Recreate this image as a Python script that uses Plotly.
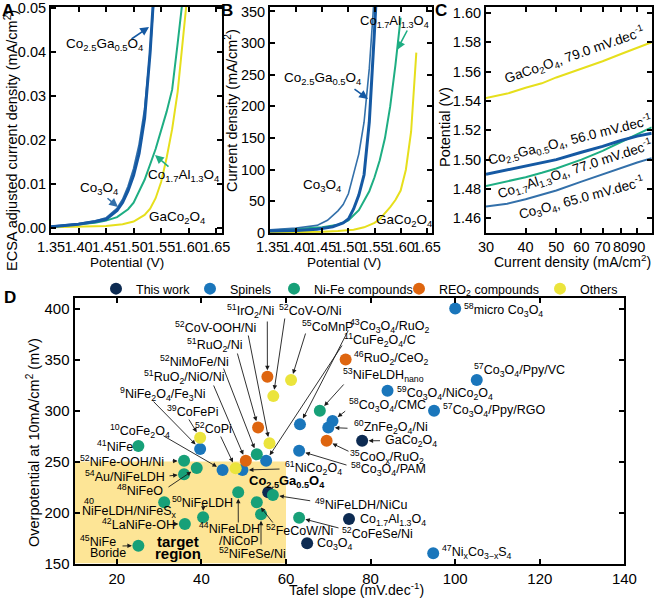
import plotly.graph_objects as go

FONT = "Liberation Sans, Arial, sans-serif"
W, H = 661, 600

# ---------------- Panel A: ECSA-normalised LSV ----------------
a_ga_x = [1.35, 1.40, 1.43, 1.45, 1.47, 1.48, 1.49, 1.50, 1.51, 1.52, 1.53, 1.54]
a_ga_y = [0.0003, 0.0009, 0.0015, 0.0020, 0.0040, 0.0058, 0.0085, 0.0120, 0.0170, 0.0250, 0.0400, 0.0600]
a_co_x = [1.35, 1.40, 1.43, 1.45, 1.47, 1.48, 1.49, 1.50, 1.51, 1.52, 1.53, 1.54]
a_co_y = [0.0004, 0.0010, 0.0016, 0.0023, 0.0045, 0.0065, 0.0095, 0.0135, 0.0190, 0.0270, 0.0400, 0.0580]
a_al_x = [1.35, 1.40, 1.43, 1.45, 1.47, 1.49, 1.50, 1.52, 1.54, 1.56, 1.57, 1.58, 1.59]
a_al_y = [0.0003, 0.0008, 0.0012, 0.0017, 0.0025, 0.0043, 0.0058, 0.0110, 0.0180, 0.0265, 0.0315, 0.0420, 0.0530]
a_gc_x = [1.35, 1.40, 1.45, 1.48, 1.50, 1.52, 1.53, 1.54, 1.55, 1.56, 1.57, 1.58, 1.59, 1.60]
a_gc_y = [0.0002, 0.0003, 0.0005, 0.0009, 0.0015, 0.0030, 0.0044, 0.0068, 0.0105, 0.0160, 0.0225, 0.0310, 0.0420, 0.0560]

# ---------------- Panel B: geometric current density ----------------
b_ga_x = [1.35, 1.40, 1.44, 1.47, 1.49, 1.50, 1.51, 1.52, 1.53, 1.54, 1.55, 1.555]
b_ga_y = [3, 4, 6, 10, 16, 22, 38, 60, 92, 175, 320, 400]
b_co_x = [1.35, 1.40, 1.44, 1.46, 1.48, 1.49, 1.50, 1.51, 1.52, 1.53, 1.54, 1.55]
b_co_y = [5, 8, 12, 20, 35, 45, 62, 92, 125, 175, 260, 380]
b_al_x = [1.35, 1.40, 1.45, 1.48, 1.50, 1.52, 1.53, 1.54, 1.55, 1.56, 1.57, 1.58, 1.59, 1.60]
b_al_y = [4, 6, 9, 13, 20, 36, 50, 66, 88, 115, 150, 200, 265, 340]
b_gc_x = [1.35, 1.40, 1.45, 1.48, 1.51, 1.53, 1.55, 1.56, 1.57, 1.58, 1.59, 1.60, 1.61, 1.62, 1.63]
b_gc_y = [1, 1, 2, 3, 5, 9, 16, 22, 31, 41, 52, 67, 100, 160, 285]

# ---------------- Panel C: Tafel plots ----------------
c_x = [30, 35, 40, 45, 50, 60, 70, 80, 90, 100]
c_gaco = [1.542, 1.545, 1.549, 1.552, 1.556, 1.562, 1.567, 1.572, 1.576, 1.580]
c_co25 = [1.490, 1.493, 1.496, 1.498, 1.500, 1.505, 1.509, 1.513, 1.516, 1.518]
c_coal = [1.482, 1.485, 1.488, 1.491, 1.494, 1.500, 1.506, 1.512, 1.517, 1.522]
c_co3o4 = [1.468, 1.470, 1.473, 1.476, 1.479, 1.485, 1.490, 1.494, 1.498, 1.501]

# ---------------- Panel D: overpotential vs Tafel slope ----------------
tw_names = ["Co2.5Ga0.5O4", "GaCo2O4", "Co1.7Al1.3O4", "Co3O4"]
tw_x = [55.8, 78.0, 74.9, 65.0]
tw_y = [219.8, 270.3, 193.6, 169.8]

sp_names = ["micro Co3O4", "Co3O4/Ppy/VC", "Co3O4/NiCo2O4", "Co3O4/Ppy/RGO", "Co3O4/CMC",
            "ZnFe2O4/Ni", "Co3O4/RuO2", "Co3O4/PAM", "CuFe2O4/C", "NiCo2O4", "CoFe2O4",
            "NiFe2O4/Fe3Ni", "NixCo3-xS4"]
sp_x = [100.0, 105.1, 84.0, 95.0, 71.0, 70.0, 63.3, 63.1, 55.3, 49.7, 45.0, 39.7, 94.8]
sp_y = [400.0, 329.8, 319.3, 299.7, 289.6, 283.4, 286.4, 260.5, 250.7, 241.6, 241.6, 262.2, 160.0]

nf_names = ["NiFeLDHnano", "NiFe", "NiFe-OOH/Ni", "NiFeO", "Au/NiFeLDH", "NiFeLDH/NiFeSx",
            "LaNiFe-OH", "NiFeLDH", "NiFe Boride", "NiFeLDH/NiCoP", "NiFeLDH/NiCu",
            "FeCoW/Ni", "NiFeSe/Ni", "CoFeSe/Ni", "NiMoFe/Ni"]
nf_x = [68.0, 25.1, 35.9, 38.9, 35.9, 31.2, 36.1, 40.4, 25.1, 48.7, 56.9, 53.1, 54.1, 63.1, 53.1]
nf_y = [299.7, 265.1, 250.7, 243.6, 237.5, 210.0, 188.7, 195.3, 167.5, 219.8, 217.2, 210.0, 198.3, 194.9, 257.0]

re_names = ["IrO2/Ni", "RuO2/CeO2", "RuO2/Ni", "CoOx/RuO2", "RuO2/NiO/Ni"]
re_x = [55.6, 74.1, 53.4, 69.6, 50.5]
re_y = [333.0, 350.0, 283.4, 270.3, 250.7]

ot_names = ["CoMnP", "CoV-O/Ni", "CoV-OOH/Ni", "CoFePi", "CoPi"]
ot_x = [61.2, 57.0, 56.1, 39.7, 48.1]
ot_y = [329.8, 314.1, 267.8, 273.3, 243.3]

# ---------------- styles ----------------
C_GA = "#1559a3"
C_CO = "#3370aa"
C_AL = "#1eae83"
C_GC = "#e6df1c"
NAVY = "#0d2b52"
BLUE = "#1a76bb"
GREEN = "#17a078"
ORANGE = "#de650f"
YELLOW = "#ebe43c"

# panel domains in pixels (left, right, top, bottom)
DOM = {
    "A": (51, 221.7, 7, 232.5),
    "B": (270, 432, 7, 233),
    "C": (486, 651.7, 7, 233),
    "D": (74.5, 624.4, 298.3, 563.5),
}
XR_D = (10, 140)
YR_D = (150, 410)


def xdom(k):
    l, r, t, b = DOM[k]
    return [l / W, r / W]


def ydom(k):
    l, r, t, b = DOM[k]
    return [1 - b / H, 1 - t / H]


def dx(p):
    l, r, t, b = DOM["D"]
    return XR_D[0] + (p - l) * (XR_D[1] - XR_D[0]) / (r - l)


def dy(p):
    l, r, t, b = DOM["D"]
    return YR_D[0] + (b - p) * (YR_D[1] - YR_D[0]) / (b - t)


fig = go.Figure()


def line(x, y, color, width, xa, ya):
    fig.add_trace(go.Scatter(x=x, y=y, mode="lines", line=dict(color=color, width=width),
                             xaxis=xa, yaxis=ya, showlegend=False, hoverinfo="skip"))


# Panel A
line(a_gc_x, a_gc_y, C_GC, 2, "x", "y")
line(a_al_x, a_al_y, C_AL, 2, "x", "y")
line(a_co_x, a_co_y, C_CO, 1.8, "x", "y")
line(a_ga_x, a_ga_y, C_GA, 3, "x", "y")
# Panel B
line(b_gc_x, b_gc_y, C_GC, 2, "x2", "y2")
line(b_al_x, b_al_y, C_AL, 2, "x2", "y2")
line(b_co_x, b_co_y, C_CO, 1.6, "x2", "y2")
line(b_ga_x, b_ga_y, C_GA, 3, "x2", "y2")
# Panel C
line(c_x, c_gaco, C_GC, 2, "x3", "y3")
line(c_x, c_coal, C_AL, 2, "x3", "y3")
line(c_x, c_co3o4, C_CO, 2, "x3", "y3")
line(c_x, c_co25, C_GA, 3, "x3", "y3")

# Panel D scatter
groups = [
    ("This work", tw_names, tw_x, tw_y, NAVY, "legend"),
    ("Spinels", sp_names, sp_x, sp_y, BLUE, "legend2"),
    ("Ni-Fe compounds", nf_names, nf_x, nf_y, GREEN, "legend3"),
    ("REO<sub>2</sub> compounds", re_names, re_x, re_y, ORANGE, "legend4"),
    ("Others", ot_names, ot_x, ot_y, YELLOW, "legend5"),
]
points = {}
for name, nms, xs, ys, col, lg in groups:
    for n, a, b in zip(nms, xs, ys):
        points[n] = (a, b)
    fig.add_trace(go.Scatter(x=xs, y=ys, mode="markers", name=name, text=nms,
                             marker=dict(color=col, size=12, line=dict(width=0)),
                             xaxis="x4", yaxis="y4", legend=lg, showlegend=True))

ann = []


def txt(text, x, y, size=12.5, xanchor="left", yanchor="middle", angle=0, color="black"):
    ann.append(dict(text=text, x=x / W, y=1 - y / H, xref="paper", yref="paper",
                    xanchor=xanchor, yanchor=yanchor, showarrow=False, textangle=angle,
                    font=dict(size=size, color=color, family=FONT)))


def arrow_px(hx, hy, tx, ty, color, width=1.6):
    ann.append(dict(text="", x=hx / W, y=1 - hy / H, xref="paper", yref="paper",
                    ax=tx - hx, ay=ty - hy, axref="pixel", ayref="pixel", showarrow=True,
                    arrowhead=2, arrowsize=1.1, arrowwidth=width, arrowcolor=color))


def arrow_d(name, tx, ty):
    x0, y0 = points[name]
    ann.append(dict(text="", x=x0, y=y0, xref="x4", yref="y4", ax=dx(tx), ay=dy(ty),
                    axref="x4", ayref="y4", showarrow=True, arrowhead=2, arrowsize=1,
                    arrowwidth=0.9, arrowcolor="#1a1a1a", standoff=6.5))


# panel letters
for L, x, y in [("A", 8, 10), ("B", 227, 10), ("C", 441, 10), ("D", 10, 297)]:
    txt("<b>%s</b>" % L, x, y, size=17, xanchor="center")

# axis titles
txt("ECSA adjusted current density (mA/cm<sup>2</sup>)", 11, 141, size=14.5, xanchor="center", angle=-90)
txt("Potential (V)", 127, 262, size=13.5, xanchor="center")
txt("Current density (mA/cm<sup>2</sup>)", 231, 110, size=14.5, xanchor="center", angle=-90)
txt("Potential (V)", 344, 262, size=13.5, xanchor="center")
txt("Potential (V)", 445, 127, size=14.5, xanchor="center", angle=-90)
txt("Current density (mA/cm<sup>2</sup>)", 572, 261, size=14, xanchor="center")
txt("Overpotential at 10mA/cm<sup>2</sup> (mV)", 33, 443, size=14.5, xanchor="center", angle=-90)
txt("Tafel slope (mV.dec<sup>-1</sup>)", 357, 589, size=14, xanchor="center")

# Panel A labels
txt("Co<sub>2.5</sub>Ga<sub>0.5</sub>O<sub>4</sub>", 104, 45, size=13.5, xanchor="center")
arrow_px(149, 27, 130, 40, C_GA)
txt("Co<sub>3</sub>O<sub>4</sub>", 99, 188, size=13.5, xanchor="center")
arrow_px(118, 207, 106, 197, C_CO)
txt("Co<sub>1.7</sub>Al<sub>1.3</sub>O<sub>4</sub>", 183, 175, size=13.5, xanchor="center")
arrow_px(155, 155, 170, 168, C_AL)
txt("GaCo<sub>2</sub>O<sub>4</sub>", 177, 218, size=13.5, xanchor="center")

# Panel B labels
txt("Co<sub>1.7</sub>Al<sub>1.3</sub>O<sub>4</sub>", 395, 21, size=13, xanchor="center")
arrow_px(397, 50, 408, 29, C_AL)
txt("Co<sub>2.5</sub>Ga<sub>0.5</sub>O<sub>4</sub>", 322, 79, size=13.5, xanchor="center")
arrow_px(368, 99, 353, 88, C_GA)
txt("Co<sub>3</sub>O<sub>4</sub>", 322, 185, size=13.5, xanchor="center")
txt("GaCo<sub>2</sub>O<sub>4</sub>", 404, 220, size=13.5, xanchor="center")

# Panel C labels
txt("GaCo<sub>2</sub>O<sub>4</sub>, 79.0 mV.dec<sup>-1</sup>", 574, 55, size=13.5, xanchor="center", angle=-19)
txt("Co<sub>2.5</sub>Ga<sub>0.5</sub>O<sub>4</sub>, 56.0 mV.dec<sup>-1</sup>", 570, 140, size=13.5, xanchor="center", angle=-14)
txt("Co<sub>1.7</sub>Al<sub>1.3</sub>O<sub>4</sub>, 77.0 mV.dec<sup>-1</sup>", 575, 169, size=13.5, xanchor="center", angle=-18)
txt("Co<sub>3</sub>O<sub>4</sub>, 65.0 mV.dec<sup>-1</sup>", 581, 198, size=13.5, xanchor="center", angle=-15)

# Panel D labels: (text, left px, middle px, target, arrow tail px)
d_labels = [
    ("<sup>51</sup>IrO<sub>2</sub>/Ni", 225, 311, "IrO2/Ni", (267.3, 320)),
    ("<sup>52</sup>CoV-OOH/Ni", 173, 327, "CoV-OOH/Ni", (248, 334)),
    ("<sup>51</sup>RuO<sub>2</sub>/Ni", 185, 345, "RuO2/Ni", (237, 352)),
    ("<sup>52</sup>NiMoFe/Ni", 158, 361, "NiMoFe/Ni", (223, 367)),
    ("<sup>51</sup>RuO<sub>2</sub>/NiO/Ni", 141.5, 377, "RuO2/NiO/Ni", (213, 384)),
    ("<sup>9</sup>NiFe<sub>2</sub>O<sub>4</sub>/Fe<sub>3</sub>Ni", 118, 393.5, "NiFe2O4/Fe3Ni", (152, 400)),
    ("<sup>39</sup>CoFePi", 165, 411, "CoFePi", (188, 418)),
    ("<sup>52</sup>CoPi", 193, 428, "CoPi", (220, 435)),
    ("<sup>10</sup>CoFe<sub>2</sub>O<sub>4</sub>", 108, 431, "CoFe2O4", (162, 435)),
    ("<sup>41</sup>NiFe", 95, 446, None, None),
    ("<sup>52</sup>NiFe-OOH/Ni", 78, 461, "NiFe-OOH/Ni", (171, 461)),
    ("<sup>54</sup>Au/NiFeLDH", 83, 476, "Au/NiFeLDH", (168, 476)),
    ("<sup>48</sup>NiFeO", 115, 490, "NiFeO", (167, 488)),
    ("NiFeLDH/NiFeS<sub>x</sub>", 80, 512, None, None),
    ("<sup>42</sup>LaNiFe-OH", 100, 524, "LaNiFe-OH", (173, 524)),
    ("<sup>50</sup>NiFeLDH", 170, 502, "NiFeLDH", (203.3, 507.5)),
    ("<sup>45</sup>NiFe", 78, 541, None, None),
    ("Boride", 88, 552.5, "NiFe Boride", (121, 546)),
    ("<sup>44</sup>NiFeLDH", 196.7, 528.3, "NiFeLDH/NiCoP", (238.3, 524)),
    ("/NiCoP", 216.7, 541, None, None),
    ("<sup>52</sup>NiFeSe/Ni", 216.7, 553, "NiFeSe/Ni", (261, 546)),
    ("<sup>52</sup>FeCoW/Ni", 264, 530, "FeCoW/Ni", (274, 524)),
    ("<sup>61</sup>NiCo<sub>2</sub>O<sub>4</sub>", 283, 468, "NiCo2O4", (281, 469)),
    ("<sup>52</sup>CoV-O/Ni", 277, 310, "CoV-O/Ni", (285, 317)),
    ("<sup>55</sup>CoMnP", 300, 326, "CoMnP", (306, 332)),
    ("<sup>43</sup>Co<sub>3</sub>O<sub>4</sub>/RuO<sub>2</sub>", 347.5, 326, "Co3O4/RuO2", (349, 329)),
    ("<sup>11</sup>CuFe<sub>2</sub>O<sub>4</sub>/C", 341.7, 340, "CuFe2O4/C", (343, 344)),
    ("<sup>46</sup>RuO<sub>2</sub>/CeO<sub>2</sub>", 352, 358, None, None),
    ("<sup>53</sup>NiFeLDH<sub>nano</sub>", 340.7, 375, "NiFeLDHnano", (345, 383)),
    ("<sup>59</sup>Co<sub>3</sub>O<sub>4</sub>/NiCo<sub>2</sub>O<sub>4</sub>", 395, 392.7, None, None),
    ("<sup>58</sup>Co<sub>3</sub>O<sub>4</sub>/CMC", 346.7, 405, "Co3O4/CMC", (346.7, 410)),
    ("<sup>60</sup>ZnFe<sub>2</sub>O<sub>4</sub>/Ni", 352, 427.3, "ZnFe2O4/Ni", (349, 428.3)),
    ("GaCo<sub>2</sub>O<sub>4</sub>", 383.3, 440.7, "GaCo2O4", (381.5, 440.7)),
    ("<sup>35</sup>CoO<sub>x</sub>/RuO<sub>2</sub>", 348.3, 456.5, "CoOx/RuO2", (350, 452)),
    ("<sup>58</sup>Co<sub>3</sub>O<sub>4</sub>/PAM", 349, 469, "Co3O4/PAM", (348, 465.5)),
    ("<sup>49</sup>NiFeLDH/NiCu", 313.3, 504.3, "NiFeLDH/NiCu", (311.7, 501)),
    ("Co<sub>1.7</sub>Al<sub>1.3</sub>O<sub>4</sub>", 358.3, 520, None, None),
    ("<sup>52</sup>CoFeSe/Ni", 340, 533.3, "CoFeSe/Ni", (340, 528.3)),
    ("Co<sub>3</sub>O<sub>4</sub>", 315, 544, None, None),
    ("<sup>47</sup>Ni<sub>x</sub>Co<sub>3−x</sub>S<sub>4</sub>", 440, 552, None, None),
    ("<sup>57</sup>Co<sub>3</sub>O<sub>4</sub>/Ppy/RGO", 440.7, 410, None, None),
    ("<sup>57</sup>Co<sub>3</sub>O<sub>4</sub>/Ppy/VC", 471.7, 370, None, None),
    ("<sup>58</sup>micro Co<sub>3</sub>O<sub>4</sub>", 461.7, 310, None, None),
]
for text, lx, my, target, tail in d_labels:
    txt(text, lx, my)
    if target is not None:
        arrow_d(target, tail[0], tail[1])

txt("40", 82, 501, size=9)
txt("<b>Co<sub>2.5</sub>Ga<sub>0.5</sub>O<sub>4</sub></b>", 247, 481.5, size=13)
txt("<b>target</b>", 178, 541, size=15, xanchor="center")
txt("<b>region</b>", 178, 553.5, size=15, xanchor="center")

# target region
shapes = [dict(type="rect", xref="x4", yref="y4", x0=10, x1=60, y0=150, y1=250,
               fillcolor="#fde596", line=dict(width=0), layer="below")]

frame = dict(showline=True, linewidth=2, linecolor="black", mirror="ticks", ticks="inside",
             ticklen=5, tickwidth=1.5, tickcolor="black", showgrid=False, zeroline=False,
             tickangle=0, fixedrange=True, automargin=False,
             tickfont=dict(size=14.5, color="black", family=FONT))

a_ticks = [1.35, 1.40, 1.45, 1.50, 1.55, 1.60, 1.65]
a_tick_text = ["1.35", "1.40", "1.45", "1.50", "1.55", "1.60", "1.65"]

layout = dict(
    template="none",
    width=W, height=H, margin=dict(l=0, r=0, t=0, b=0, pad=0, autoexpand=False),
    paper_bgcolor="white", plot_bgcolor="white",
    font=dict(family=FONT, color="black"),
    xaxis=dict(frame, domain=xdom("A"), anchor="y", range=[1.35, 1.66], tickvals=a_ticks, ticktext=a_tick_text),
    yaxis=dict(frame, domain=ydom("A"), anchor="x", range=[-0.001, 0.0503],
               tickvals=[0, 0.01, 0.02, 0.03, 0.04, 0.05], ticktext=["0.00", "0.01", "0.02", "0.03", "0.04", "0.05"]),
    xaxis2=dict(frame, domain=xdom("B"), anchor="y2", range=[1.35, 1.66], tickvals=a_ticks, ticktext=a_tick_text),
    yaxis2=dict(frame, domain=ydom("B"), anchor="x2", range=[0, 357], tickvals=[0, 50, 100, 150, 200, 250, 300, 350]),
    xaxis3=dict(frame, domain=xdom("C"), anchor="y3", type="log", range=[1.4771, 2.0],
                tickvals=[30, 40, 50, 60, 70, 80, 90, 100], ticktext=["30", "40", "50", "60", "70", "80", "90", "100"]),
    yaxis3=dict(frame, domain=ydom("C"), anchor="x3", range=[1.450, 1.604],
                tickvals=[1.46, 1.48, 1.50, 1.52, 1.54, 1.56, 1.58, 1.60],
                ticktext=["1.46", "1.48", "1.50", "1.52", "1.54", "1.56", "1.58", "1.60"]),
    xaxis4=dict(frame, domain=xdom("D"), anchor="y4", range=list(XR_D), tickvals=[20, 40, 60, 80, 100, 120, 140],
                tickfont=dict(size=15, color="black", family=FONT)),
    yaxis4=dict(frame, domain=ydom("D"), anchor="x4", range=list(YR_D), tickvals=[150, 200, 250, 300, 350, 400],
                tickfont=dict(size=15, color="black", family=FONT)),
    annotations=ann, shapes=shapes,
)

leg_x = {"legend": 96, "legend2": 190, "legend3": 274, "legend4": 399, "legend5": 540}
for k, xp in leg_x.items():
    layout[k] = dict(x=xp / W, y=1 - 289 / H, xanchor="left", yanchor="middle", orientation="h",
                     bgcolor="rgba(0,0,0,0)", borderwidth=0, itemwidth=30,
                     font=dict(size=12.5, color="black", family=FONT))

fig.update_layout(**layout)
fig.write_html("out.html",
               config={"displayModeBar": False},
               post_script="document.body.style.margin='0';document.body.style.padding='0';"
                           "document.body.style.overflow='hidden';")
